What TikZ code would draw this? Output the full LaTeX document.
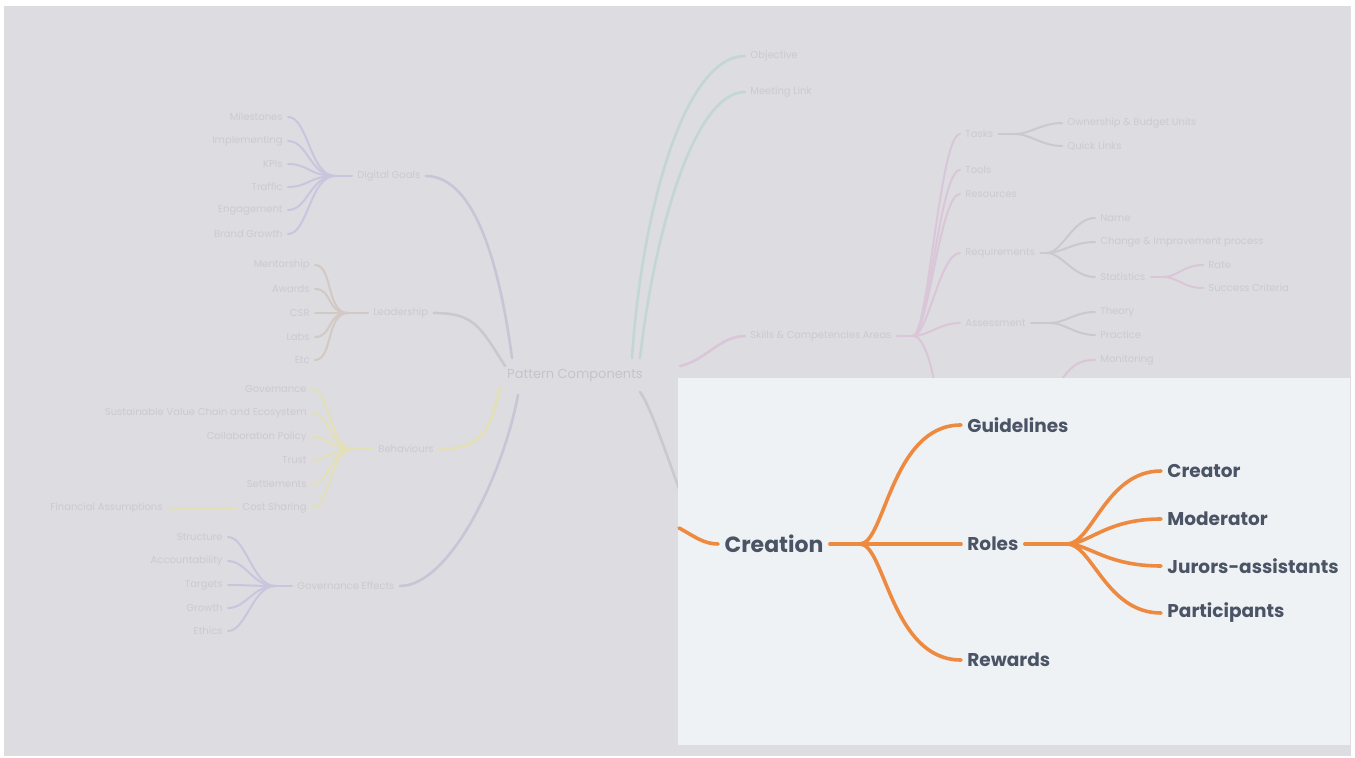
\documentclass[tikz,border=0pt]{standalone}
\usepackage{fontspec}
\setmainfont{Poppins}
\definecolor{bggray}{HTML}{DDDCE1}
\definecolor{panelc}{HTML}{EFF2F5}
\definecolor{orangec}{HTML}{EE8A3F}
\definecolor{darktext}{HTML}{4A5465}
\definecolor{fadetext}{HTML}{CBCAD0}
\definecolor{fadecenter}{HTML}{C5C4CA}
\definecolor{fpurple}{HTML}{CAC5DE}
\definecolor{ftan}{HTML}{D3C9C4}
\definecolor{fyellow}{HTML}{E3E0B6}
\definecolor{flav}{HTML}{C9C4D6}
\definecolor{fteal}{HTML}{C3D6D6}
\definecolor{fpink}{HTML}{DAC6D9}
\definecolor{fgray}{HTML}{CAC9CF}
\begin{document}
\begin{tikzpicture}[x=0.5pt,y=-0.5pt,
  ft/.style={font=\fontsize{5}{6}\selectfont, text=fadetext, inner xsep=2.5pt, inner ysep=1pt},
  ftl/.style={ft, anchor=east},
  ftr/.style={ft, anchor=west},
  fl/.style={line width=1pt, line cap=round},
  flm/.style={line width=1.3pt, line cap=round},
  mainlbl/.style={font=\fontsize{9.25}{11}\selectfont\bfseries, text=darktext, inner xsep=3pt, inner ysep=1pt, anchor=west},
  rootlbl/.style={font=\fontsize{11}{13}\selectfont\bfseries, text=darktext, inner xsep=3pt, inner ysep=1pt},
  oline/.style={draw=orangec, line width=1.8pt, line cap=round}
]
\useasboundingbox (0,0) rectangle (1355,758);
\fill[white] (0,0) rectangle (1355,758);
\fill[bggray] (4,6) rectangle (1351,756);

% ---------------- faded background map ----------------
\node[ft, font=\fontsize{6.5}{8}\selectfont, text=fadecenter, inner xsep=3pt] (pc) at (575,376) {Pattern Components};
\coordinate (pcL1) at (512,358);
\coordinate (pcL2) at (505,366);
\coordinate (pcL3) at (500,388);
\coordinate (pcL4) at (518,395);
\coordinate (pcT1) at (632,358);
\coordinate (pcT2) at (640,358);
\coordinate (pcR) at (680,366);
\coordinate (pcB) at (640,392);

% Digital Goals
\node[ftr] (dg) at (352,176) {Digital Goals};
\coordinate (dgh) at (335,176);
\node[ftl] (dg1) at (288,117) {Milestones};
\node[ftl] (dg2) at (288,141) {Implementing};
\node[ftl] (dg3) at (288,164) {KPIs};
\node[ftl] (dg4) at (288,187) {Traffic};
\node[ftl] (dg5) at (288,210) {Engagement};
\node[ftl] (dg6) at (288,234) {Brand Growth};
\draw[fl, fpurple] (dg.west) -- (dgh);
\foreach \c in {dg1,dg2,dg3,dg4,dg5,dg6}
  \draw[fl, fpurple] (dgh) .. controls +(-25,0) and +(20,0) .. (\c.east);
\draw[flm, flav] (dg.east) .. controls +(50,0) and +(-12,-90) .. (pcL1);

% Leadership
\node[ftr] (ld) at (368,313) {Leadership};
\coordinate (ldh) at (348,313);
\node[ftl] (ld1) at (315,265) {Mentorship};
\node[ftl] (ld2) at (315,289) {Awards};
\node[ftl] (ld3) at (315,313) {CSR};
\node[ftl] (ld4) at (315,337) {Labs};
\node[ftl] (ld5) at (315,360) {Etc};
\draw[fl, ftan] (ld.west) -- (ldh);
\foreach \c in {ld1,ld2,ld3,ld4,ld5}
  \draw[fl, ftan] (ldh) .. controls +(-22,0) and +(18,0) .. (\c.east);
\draw[flm, fgray] (ld.east) .. controls +(40,0) and +(-25,-40) .. (pcL2);

% Behaviours
\node[ftr] (bh) at (373,449) {Behaviours};
\coordinate (bhh) at (352,449);
\node[ftl] (bh1) at (312,389) {Governance};
\node[ftl] (bh2) at (312,413) {Sustainable Value Chain and Ecosystem};
\node[ftl] (bh3) at (312,437) {Collaboration Policy};
\node[ftl] (bh4) at (312,460) {Trust};
\node[ftl] (bh5) at (312,484) {Settlements};
\node[ftl] (bh6) at (312,508) {Cost Sharing};
\node[ftl] (fin) at (168,508) {Financial Assumptions};
\draw[fl, fyellow] (bh.west) -- (bhh);
\foreach \c in {bh1,bh2,bh3,bh4,bh5,bh6}
  \draw[fl, fyellow] (bhh) .. controls +(-22,0) and +(18,0) .. (\c.east);
\draw[fl, fyellow] (fin.east) -- (bh6.west);
\draw[flm, fyellow] (bh.east) .. controls +(45,0) and +(-10,40) .. (pcL3);

% Governance Effects
\node[ftr] (ge) at (292,586) {Governance Effects};
\coordinate (geh) at (275,586);
\node[ftl] (ge1) at (228,537) {Structure};
\node[ftl] (ge2) at (228,561) {Accountability};
\node[ftl] (ge3) at (228,585) {Targets};
\node[ftl] (ge4) at (228,608) {Growth};
\node[ftl] (ge5) at (228,631) {Ethics};
\draw[fl, fpurple] (ge.west) -- (geh);
\foreach \c in {ge1,ge2,ge3,ge4,ge5}
  \draw[fl, fpurple] (geh) .. controls +(-22,0) and +(18,0) .. (\c.east);
\draw[flm, flav] (ge.east) .. controls +(50,0) and +(-15,80) .. (pcL4);

% Top branch
\node[ftr] (obj) at (745,56) {Objective};
\node[ftr] (ml) at (745,92) {Meeting Link};
\draw[flm, fteal] (pcT1) .. controls +(10,-150) and +(-60,0) .. (obj.west);
\draw[flm, fteal] (pcT2) .. controls +(15,-130) and +(-50,0) .. (ml.west);

% Right branch
\node[ftr] (sc) at (745,336) {Skills \& Competencies Areas};
\coordinate (sch) at (913,336);
\draw[flm, fpink] (pcR) .. controls +(25,-5) and +(-25,0) .. (sc.west);
\draw[fl, fpink] (sc.east) -- (sch);
\node[ftr] (tk) at (960,134) {Tasks};
\node[ftr] (tl) at (960,170) {Tools};
\node[ftr] (rs) at (960,194) {Resources};
\node[ftr] (rq) at (960,253) {Requirements};
\node[ftr] (as) at (960,323) {Assessment};
\foreach \c in {tk,tl,rs,rq,as}
  \draw[fl, fpink] (sch) .. controls +(15,0) and +(-20,0) .. (\c.west);
\coordinate (rdown) at (942,430);
\draw[fl, fpink] (sch) .. controls +(15,0) and +(-5,-40) .. (rdown);

\coordinate (tkh) at (1015,134);
\node[ftr] (tk1) at (1062,123) {Ownership \& Budget Units};
\node[ftr] (tk2) at (1062,146) {Quick Links};
\draw[fl, fgray] (tk.east) -- (tkh);
\foreach \c in {tk1,tk2}
  \draw[fl, fgray] (tkh) .. controls +(15,0) and +(-20,0) .. (\c.west);

\coordinate (rqh) at (1047,253);
\node[ftr] (rq1) at (1095,218) {Name};
\node[ftr] (rq2) at (1095,242) {Change \& Improvement process};
\node[ftr] (rq3) at (1095,277) {Statistics};
\draw[fl, fgray] (rq.east) -- (rqh);
\foreach \c in {rq1,rq2,rq3}
  \draw[fl, fgray] (rqh) .. controls +(15,0) and +(-22,0) .. (\c.west);

\coordinate (sth) at (1163,277);
\node[ftr] (st1) at (1203,265) {Rate};
\node[ftr] (st2) at (1203,288) {Success Criteria};
\draw[fl, fpink] (rq3.east) -- (sth);
\foreach \c in {st1,st2}
  \draw[fl, fpink] (sth) .. controls +(15,0) and +(-20,0) .. (\c.west);

\coordinate (ash) at (1050,323);
\node[ftr] (as1) at (1095,312) {Theory};
\node[ftr] (as2) at (1095,335) {Practice};
\draw[fl, fgray] (as.east) -- (ash);
\foreach \c in {as1,as2}
  \draw[fl, fgray] (ash) .. controls +(15,0) and +(-20,0) .. (\c.west);

\node[ftr] (mon) at (1095,360) {Monitoring};
\coordinate (mon0) at (1058,385);
\draw[fl, fpink] (mon0) .. controls +(12,-18) and +(-18,0) .. (mon.west);

% faded connector from centre towards Creation (hidden by panel)
\coordinate (crin) at (700,540);
\draw[flm, fgray] (pcB) .. controls +(15,20) and +(-20,-40) .. (crin);

% ---------------- foreground panel ----------------
\fill[panelc] (678,378) rectangle (1350,745);

\node[rootlbl] (creation) at (774,544) {Creation};
\node[mainlbl] (guidelines) at (961,425) {Guidelines};
\node[mainlbl] (roles) at (961,544) {Roles};
\node[mainlbl] (rewards) at (961,660) {Rewards};
\node[mainlbl] (creator) at (1161,471) {Creator};
\node[mainlbl] (moderator) at (1161,519) {Moderator};
\node[mainlbl] (jurors) at (1161,566) {Jurors-assistants};
\node[mainlbl] (participants) at (1161,613) {Participants};

\coordinate (cin) at (679,528);
\coordinate (chub) at (860,544);
\coordinate (rhub) at (1067,544);

\draw[oline] (cin) .. controls +(15,8) and +(-15,0) .. (creation.west);
\draw[oline] (creation.east) -- (chub);
\draw[oline] (chub) .. controls +(25,0) and +(-70,0) .. (guidelines.west);
\draw[oline] (chub) -- (roles.west);
\draw[oline] (chub) .. controls +(25,0) and +(-70,0) .. (rewards.west);
\draw[oline] (roles.east) -- (rhub);
\draw[oline] (rhub) .. controls +(25,0) and +(-55,0) .. (creator.west);
\draw[oline] (rhub) .. controls +(22,0) and +(-55,0) .. (moderator.west);
\draw[oline] (rhub) .. controls +(22,0) and +(-55,0) .. (jurors.west);
\draw[oline] (rhub) .. controls +(25,0) and +(-55,0) .. (participants.west);
\end{tikzpicture}
\end{document}
